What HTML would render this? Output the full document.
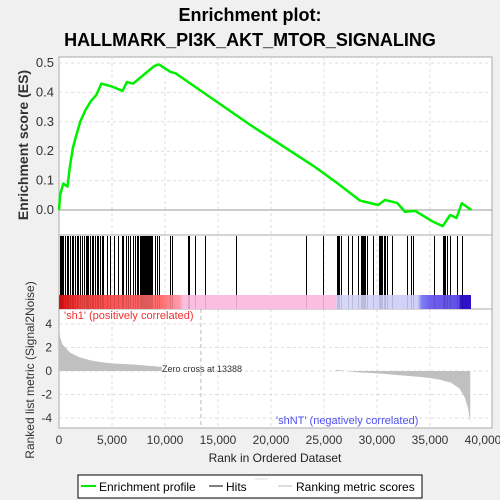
<!DOCTYPE html>
<html><head><meta charset="utf-8"><style>
body{margin:0;background:#f0f0f0;}
svg{display:block;font-family:"Liberation Sans","DejaVu Sans",sans-serif;}
</style></head><body>
<svg id="c" width="500" height="500" xmlns="http://www.w3.org/2000/svg">
<defs>
<linearGradient id="cb" x1="59" x2="471" y1="0" y2="0" gradientUnits="userSpaceOnUse">
<stop offset="0" stop-color="#e01010"/><stop offset="0.05" stop-color="#f84040"/><stop offset="0.25" stop-color="#ff7070"/><stop offset="0.295" stop-color="#ffa0b0"/><stop offset="0.3" stop-color="#fbbde0"/><stop offset="0.67" stop-color="#fbbde0"/><stop offset="0.675" stop-color="#d8d8fa"/><stop offset="0.87" stop-color="#d0d0f8"/><stop offset="0.88" stop-color="#8080f4"/><stop offset="0.9" stop-color="#7060ee"/><stop offset="0.97" stop-color="#6050e8"/><stop offset="0.975" stop-color="#3010c8"/><stop offset="1" stop-color="#3010c8"/>
</linearGradient>
</defs>
<text x="250" y="21" text-anchor="middle" font-size="18" font-weight="bold">Enrichment plot:</text>
<text x="250" y="46" text-anchor="middle" font-size="18" font-weight="bold">HALLMARK_PI3K_AKT_MTOR_SIGNALING</text>
<rect x="59" y="57" width="433" height="371" fill="#fff" stroke="#aaa"/>
<g id="grid"></g>
<line x1="59" x2="492" y1="235" y2="235" stroke="#aaa"/>
<line x1="59" x2="492" y1="309" y2="309" stroke="#aaa"/>
<rect x="59" y="295" width="412" height="14" fill="url(#cb)"/>
<g id="hits"></g>
<g id="metric"></g>
<g id="es"></g>
<g id="axes" font-size="12" fill="#333"></g>
<text x="64" y="319" font-size="11" fill="#f03030">'sh1' (positively correlated)</text>
<text x="276" y="424" font-size="11" fill="#5050f0">'shNT' (negatively correlated)</text>
<text x="162" y="372" font-size="9" fill="#333">Zero cross at 13388</text>
<text transform="translate(28,145) rotate(-90)" text-anchor="middle" font-size="14" font-weight="bold" fill="#333">Enrichment score (ES)</text>
<text transform="translate(34,370) rotate(-90)" text-anchor="middle" font-size="12" fill="#333">Ranked list metric (Signal2Noise)</text>
<text x="275" y="462" text-anchor="middle" font-size="12" fill="#222">Rank in Ordered Dataset</text>
<g>
<rect x="78" y="475" width="344" height="23" fill="#fff" stroke="#000"/>
<line x1="81" x2="96" y1="486" y2="486" stroke="#00ee00" stroke-width="2"/>
<text x="99" y="491" font-size="12">Enrichment profile</text>
<line x1="209" x2="223" y1="486" y2="486" stroke="#000"/>
<text x="226" y="491" font-size="12">Hits</text>
<line x1="255" x2="268" y1="479" y2="479" stroke="#ddd"/>
<line x1="278" x2="292" y1="486" y2="486" stroke="#bbb"/>
<text x="296" y="491" font-size="12">Ranking metric scores</text>
</g>
</svg>
<script>
const esRanks=[0,100,400,800,1000,1300,1600,2000,2500,3000,3500,4000,5000,6000,6400,7000,8000,9000,9430,10500,11000,12000,13000,18020,24000,26300,28400,30100,30750,31900,32640,33600,35300,36200,36900,37500,38000,38900];
const esValues=[0,0.05,0.09,0.08,0.14,0.21,0.25,0.30,0.34,0.37,0.39,0.43,0.42,0.405,0.435,0.43,0.46,0.49,0.495,0.47,0.465,0.44,0.415,0.29,0.15,0.09,0.032,0.017,0.034,0.024,-0.006,-0.003,-0.04,-0.055,-0.017,-0.027,0.023,0];
const hitRanks=[94,189,283,377,566,755,849,1037,1226,1320,1509,1697,1792,1980,2169,2358,2546,2640,2735,2923,3112,3206,3395,3583,3678,3866,4055,4149,4526,4809,5187,5564,5941,6035,6318,6507,6695,6978,7167,7355,7450,7638,7733,7827,7921,8016,8110,8204,8299,8393,8488,8581,8676,8770,9053,9241,9430,10467,10656,12165,12259,12825,13768,16700,23290,24895,26215,26310,26400,26590,27250,27630,28195,28480,28575,28670,28760,28855,29045,29610,30175,30270,30365,30460,30650,30745,30930,31400,32820,33195,33380,35365,36210,36300,36400,36590,36870,37530,38000];
const posRanks=[0,100,300,600,1000,1500,2000,3000,4000,5000,6000,7000,8000,9000,9700];
const posValues=[3.9,2.9,2.3,2.0,1.6,1.35,1.15,0.9,0.75,0.65,0.6,0.55,0.48,0.4,0.35];
const negRanks=[26150,28000,30000,32000,34000,35000,36000,37000,37800,38300,38600,38800];
const negValues=[0.1,-0.1,-0.2,-0.35,-0.5,-0.6,-0.75,-1.0,-1.5,-2.3,-3.2,-4.4];
const xTicks=[0,5000,10000,15000,20000,25000,30000,35000,40000];
const esTicks=[0,0.1,0.2,0.3,0.4,0.5];
const mTicks=[4,2,0,-2,-4];

const NS="http://www.w3.org/2000/svg";
const X=r=>59+r*0.0106;
const YE=v=>210-v*294;
const YM=v=>371-v*11.75;
function mk(t,a,p){const e=document.createElementNS(NS,t);for(const k in a)e.setAttribute(k,a[k]);p.appendChild(e);return e;}
const grid=document.getElementById('grid'),axes=document.getElementById('axes');
xTicks.forEach(t=>{const x=X(t);
 if(t>0&&t<40000){const l=mk('line',{x1:x,x2:x,y1:57,y2:428,stroke:'#ddd','stroke-dasharray':'3,3'},grid);
 
 }
 const tx=mk('text',{x:x,y:444,'text-anchor':'middle'},axes);tx.textContent=t.toLocaleString('en-US');
 
 
});
esTicks.forEach(t=>{const y=YE(t);
 if(t>0){const l=mk('line',{x1:59,x2:492,y1:y,y2:y,stroke:'#ddd','stroke-dasharray':'3,3'},grid);
 
 }
 const tx=mk('text',{x:54,y:y+4,'text-anchor':'end','font-size':13},axes);tx.textContent=t.toFixed(1);
 
 
});
mTicks.forEach(t=>{const y=YM(t);
 const l=mk('line',{x1:59,x2:492,y1:y,y2:y,stroke:'#ddd','stroke-dasharray':'3,3'},grid);
 
 
 const tx=mk('text',{x:52,y:y+4,'text-anchor':'end'},axes);tx.textContent=t;
 
 
});
const zl=mk('line',{x1:59,x2:492,y1:YE(0),y2:YE(0),stroke:'#999'},grid);


const zc=mk('line',{x1:X(13388),x2:X(13388),y1:309,y2:428,stroke:'#bbb','stroke-dasharray':'4,3'},grid);


const hg=document.getElementById('hits');
hitRanks.forEach(r=>{const x=Math.round(X(r))+0.5;
 const l=mk('line',{x1:x,x2:x,y1:236,y2:295,stroke:'#000','stroke-width':1,'shape-rendering':'crispEdges'},hg);
 
 
 const m=mk('line',{x1:x,x2:x,y1:295,y2:309,stroke:'#000','stroke-opacity':0.12,'shape-rendering':'crispEdges'},hg);
 
 });
const mg=document.getElementById('metric');
function area(rs,vs,name){let d='M'+X(rs[0])+','+YM(0);rs.forEach((r,i)=>d+=' L'+X(r)+','+YM(vs[i]));d+=' L'+X(rs[rs.length-1])+','+YM(0)+'Z';
 const p=mk('path',{d:d,fill:'#c0c0c0'},mg);
 
 }
area(posRanks,posValues,'metric-positive-area');
area(negRanks,negValues,'metric-negative-area');
const pts=esRanks.map((r,i)=>X(r)+','+YE(esValues[i])).join(' ');
const pl=mk('polyline',{points:pts,fill:'none',stroke:'#00ee00','stroke-width':2.5,'stroke-linejoin':'round'},document.getElementById('es'));


</script>
</body></html>
